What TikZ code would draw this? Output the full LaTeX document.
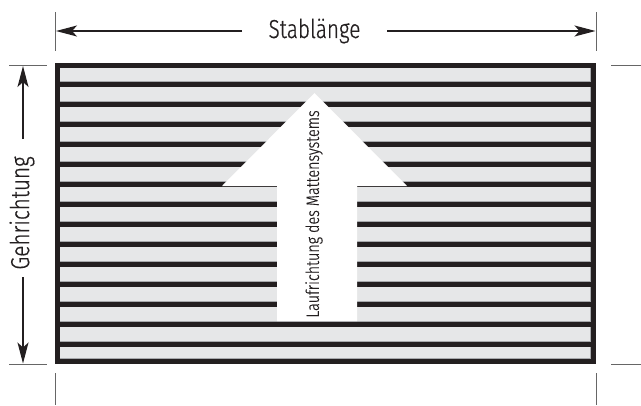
\documentclass[tikz,border=0pt]{standalone}
\usepackage{fontspec}
\setmainfont{Fira Sans}[UprightFont={* Light}, FakeStretch=0.8, FakeBold=0.6]
\usetikzlibrary{arrows.meta}
\definecolor{stripe}{HTML}{E6E7E8}
\definecolor{stripeedge}{HTML}{A7A9AC}
\definecolor{bar}{HTML}{231F20}
\tikzset{
  tick/.style={draw=black!60, line width=0.9pt},
  dimarrow/.style={draw=bar, line width=1.5pt, -{Stealth[length=21pt,width=11pt,inset=5pt]}},
  barline/.style={draw=bar, line width=5pt},
  edgeline/.style={draw=stripeedge, line width=1pt},
  lbl/.style={inner sep=0pt, font=\fontsize{26}{28}\selectfont, text=bar},
}
\begin{document}
\begin{tikzpicture}[x=1pt,y=-1pt]
\useasboundingbox (0,0) rectangle (641,405);
% mat background
\fill[stripe] (57.5,65.5) rectangle (593.5,361.5);
% thin grey edges of stripes
\foreach \k in {0,...,13} { \draw[edgeline] (57.5,{81.5+20*\k}) -- (591,{81.5+20*\k}); }
\draw[edgeline] (57.5,358.5) -- (591,358.5);
\draw[edgeline] (590.5,65.5) -- (590.5,361.5);
% black bars
\foreach \k in {0,...,13} { \draw[barline] (57.5,{84.5+20*\k}) -- (593.5,{84.5+20*\k}); }
% outer frame
\draw[barline, line width=5.5pt] (57.5,65.5) rectangle (593.5,361.5);
% white arrow
\fill[white] (277,321) -- (277,186) -- (222,186) -- (314.5,93) -- (407,186) -- (357,186) -- (357,321) -- cycle;
\node[rotate=90, inner sep=0pt, font=\fontsize{18}{20}\selectfont, text=bar] (lauf) at (314,214) {Laufrichtung des Mattensystems};
% top dimension
\coordinate (tl1) at (55.5,12); \coordinate (tl2) at (55.5,51);
\coordinate (tr1) at (596,12);  \coordinate (tr2) at (596,51);
\draw[tick] (tl1) -- (tl2);
\draw[tick] (tr1) -- (tr2);
\node[lbl] (stab) at (314.5,31) {Stablänge};
\coordinate (al) at (242,31); \coordinate (alt) at (56,31);
\coordinate (ar) at (387,31); \coordinate (art) at (595.5,31);
\draw[dimarrow] (al) -- (alt);
\draw[dimarrow] (ar) -- (art);
% left dimension
\coordinate (lt1) at (9,65); \coordinate (lt2) at (47,65);
\coordinate (lb1) at (9,364); \coordinate (lb2) at (47,364);
\draw[tick] (lt1) -- (lt2);
\draw[tick] (lb1) -- (lb2);
\node[lbl, rotate=90] (geh) at (22,213) {Gehrichtung};
\coordinate (au) at (23,139); \coordinate (aut) at (23,66);
\coordinate (ad) at (23,277); \coordinate (adt) at (23,363.5);
\draw[dimarrow] (au) -- (aut);
\draw[dimarrow] (ad) -- (adt);
% right ticks
\coordinate (rt1) at (611,65); \coordinate (rt2) at (641,65);
\coordinate (rb1) at (611,364); \coordinate (rb2) at (641,364);
\draw[tick] (rt1) -- (rt2);
\draw[tick] (rb1) -- (rb2);
% bottom ticks
\coordinate (bl1) at (55.5,373); \coordinate (bl2) at (55.5,405);
\coordinate (br1) at (596,373); \coordinate (br2) at (596,405);
\draw[tick] (bl1) -- (bl2);
\draw[tick] (br1) -- (br2);
\end{tikzpicture}
\end{document}
